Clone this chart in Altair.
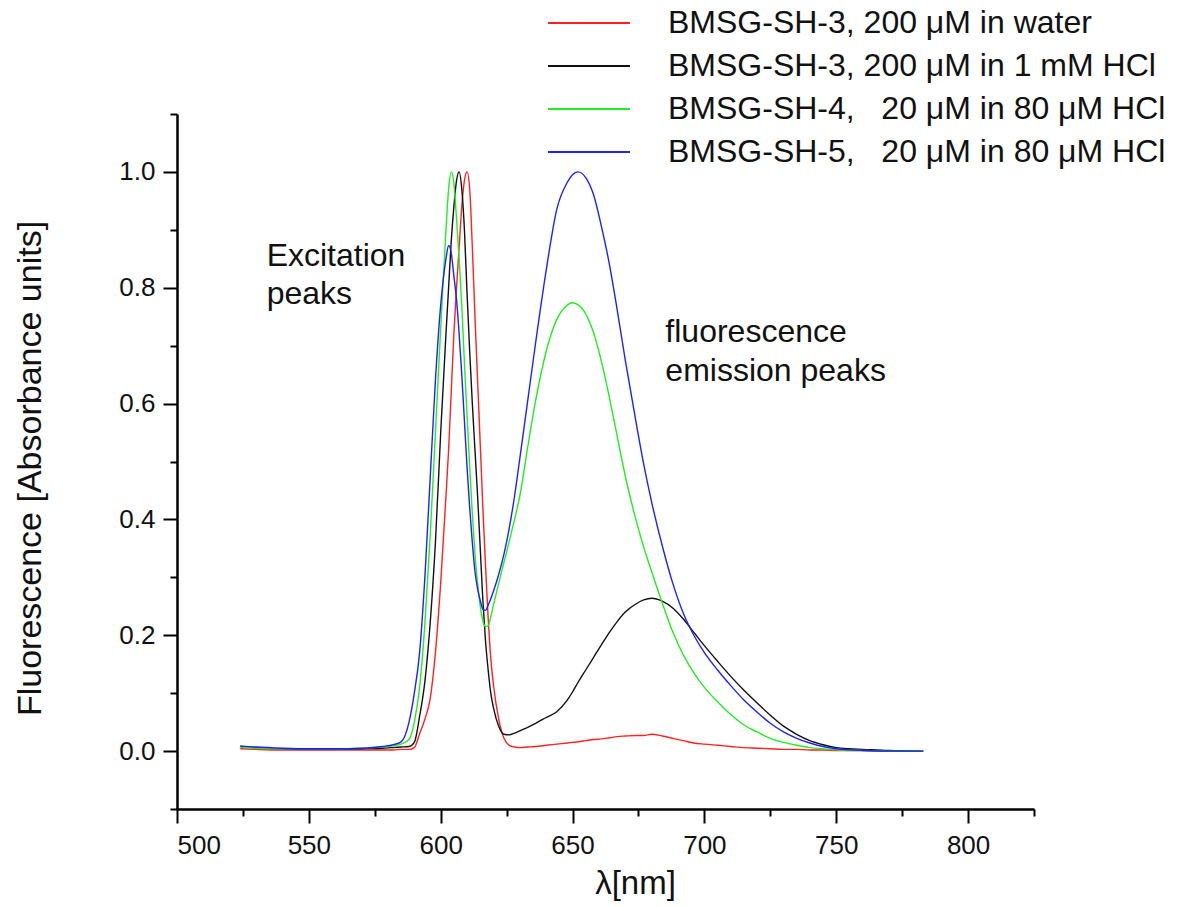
import altair as alt
import pandas as pd

wavelength = [524, 530, 540, 550, 560, 570, 578, 582, 585, 588, 590, 592, 594, 596, 598,
              600, 602, 603, 604, 605, 606, 607, 608, 609, 610, 611, 612, 613, 614, 615,
              616, 617, 618, 619, 620, 622, 624, 626, 628, 630, 633, 636, 640, 644, 648,
              650, 652, 655, 658, 661, 664, 667, 670, 674, 677, 680, 684, 688, 692, 696,
              700, 705, 710, 715, 720, 725, 730, 735, 740, 745, 750, 755, 760, 770, 783]

red = [0.004, 0.003, 0.002, 0.002, 0.002, 0.002, 0.002, 0.002, 0.003, 0.003, 0.006, 0.03, 0.055, 0.09, 0.17,
       0.29, 0.44, 0.52, 0.62, 0.72, 0.80, 0.87, 0.94, 0.985, 1.0, 0.97, 0.87, 0.75, 0.64, 0.53,
       0.42, 0.32, 0.23, 0.16, 0.115, 0.055, 0.022, 0.010, 0.007, 0.006, 0.007, 0.008, 0.010, 0.012, 0.014,
       0.015, 0.016, 0.018, 0.020, 0.021, 0.023, 0.025, 0.026, 0.027, 0.027, 0.029, 0.026, 0.022, 0.018, 0.014,
       0.012, 0.010, 0.008, 0.006, 0.005, 0.004, 0.003, 0.003, 0.002, 0.002, 0.001, 0.001, 0.001, 0.0, 0.0]

black = [0.008, 0.006, 0.004, 0.003, 0.003, 0.004, 0.005, 0.006, 0.007, 0.008, 0.015, 0.06, 0.12, 0.22, 0.36,
         0.55, 0.72, 0.80, 0.88, 0.94, 0.985, 1.0, 0.97, 0.90, 0.79, 0.69, 0.60, 0.52, 0.44, 0.35,
         0.26, 0.19, 0.14, 0.10, 0.075, 0.043, 0.029, 0.028, 0.031, 0.035, 0.041, 0.048, 0.058, 0.068, 0.088,
         0.102, 0.118, 0.14, 0.162, 0.184, 0.205, 0.224, 0.24, 0.254, 0.261, 0.264, 0.259, 0.247, 0.228, 0.205,
         0.182, 0.155, 0.129, 0.105, 0.083, 0.062, 0.043, 0.029, 0.018, 0.011, 0.006, 0.004, 0.003, 0.001, 0.0]

green = [0.007, 0.005, 0.004, 0.004, 0.004, 0.005, 0.007, 0.009, 0.012, 0.02, 0.05, 0.11, 0.22, 0.37, 0.55,
         0.73, 0.90, 0.97, 1.0, 0.98, 0.92, 0.85, 0.77, 0.67, 0.58, 0.49, 0.41, 0.34, 0.29, 0.25,
         0.225, 0.215, 0.216, 0.232, 0.252, 0.29, 0.326, 0.362, 0.40, 0.44, 0.525, 0.605, 0.69, 0.745, 0.77,
         0.774, 0.771, 0.755, 0.722, 0.672, 0.61, 0.542, 0.475, 0.40, 0.352, 0.31, 0.256, 0.206, 0.166, 0.135,
         0.11, 0.085, 0.063, 0.045, 0.033, 0.022, 0.015, 0.010, 0.006, 0.004, 0.002, 0.001, 0.001, 0.0, 0.0]

blue = [0.009, 0.007, 0.005, 0.004, 0.004, 0.005, 0.008, 0.011, 0.016, 0.05, 0.10, 0.17, 0.30, 0.47, 0.64,
        0.77, 0.85, 0.873, 0.86, 0.82, 0.78, 0.72, 0.65, 0.57, 0.49, 0.42, 0.36, 0.31, 0.28, 0.26,
        0.245, 0.243, 0.252, 0.263, 0.276, 0.305, 0.34, 0.385, 0.44, 0.505, 0.605, 0.705, 0.83, 0.935, 0.982,
        0.995, 1.0, 0.99, 0.96, 0.905, 0.84, 0.76, 0.675, 0.57, 0.495, 0.43, 0.355, 0.29, 0.238, 0.20,
        0.17, 0.14, 0.113, 0.088, 0.067, 0.048, 0.033, 0.022, 0.014, 0.008, 0.004, 0.002, 0.001, 0.0, 0.0]

series_names = [
    "BMSG-SH-3, 200 \u03bcM in water",
    "BMSG-SH-3, 200 \u03bcM in 1 mM HCl",
    "BMSG-SH-4,\u00a0\u00a0 20 \u03bcM in 80 \u03bcM HCl",
    "BMSG-SH-5,\u00a0\u00a0 20 \u03bcM in 80 \u03bcM HCl",
]
series_colors = ["#ff2020", "#111111", "#20ee20", "#2020ff"]
series_values = [red, black, green, blue]

x_ticks = [500, 525, 550, 575, 600, 625, 650, 675, 700, 725, 750, 775, 800, 825]
y_ticks = [-0.1, 0.0, 0.1, 0.2, 0.3, 0.4, 0.5, 0.6, 0.7, 0.8, 0.9, 1.0, 1.1]

ann_text = ["Excitation", "peaks", "fluorescence", "emission peaks"]
ann_x = [534.0, 534.0, 685.2, 685.2]
ann_y = [0.837, 0.772, 0.706, 0.639]

rows = []
for name, vals in zip(series_names, series_values):
    for w, v in zip(wavelength, vals):
        rows.append({"wl": w, "val": v, "series": name})
df = pd.DataFrame(rows)
ann = pd.DataFrame({"t": ann_text, "x": ann_x, "y": ann_y})

SANS = "Liberation Sans, Arial, sans-serif"

x_major = "datum.value % 50 === 0 && datum.value <= 800"
y_major = "round(datum.value * 10) % 2 === 0 && datum.value > -0.05 && datum.value < 1.05"

x_scale = alt.Scale(domain=[500, 825], nice=False, zero=False)
y_scale = alt.Scale(domain=[-0.1, 1.1], nice=False, zero=False)

lines = alt.Chart(df).mark_line(strokeWidth=1.4, interpolate="monotone").encode(
    x=alt.X("wl:Q", scale=x_scale, axis=alt.Axis(
        values=x_ticks, format="d",
        labelExpr=f"({x_major}) ? datum.label : ''",
        tickSize={"condition": {"test": x_major, "value": 14}, "value": 7},
        tickWidth=2, tickColor="black", domainColor="black", domainWidth=2.5,
        labelFont=SANS, labelFontSize=26, labelColor="#111111", labelPadding=9,
        grid=False, title="\u03bb[nm]", titleFont=SANS, titleFontSize=33,
        titleFontWeight="normal", titleColor="#111111", titleX=458, titleY=74,
        titleAlign="center", titleBaseline="middle")),
    y=alt.Y("val:Q", scale=y_scale, axis=alt.Axis(
        values=y_ticks,
        labelExpr=f"({y_major}) ? format(datum.value, '.1f') : ''",
        tickSize={"condition": {"test": y_major, "value": 14}, "value": 7},
        tickWidth=2, tickColor="black", domainColor="black", domainWidth=2.5,
        labelFont=SANS, labelFontSize=26, labelColor="#111111", labelPadding=8,
        grid=False, title="Fluorescence [Absorbance units]", titleFont=SANS,
        titleFontSize=34, titleFontWeight="normal", titleColor="#111111",
        titleX=-147, titleY=354, titleAngle=270, titleAlign="center",
        titleBaseline="middle")),
    color=alt.Color("series:N", scale=alt.Scale(domain=series_names, range=series_colors),
                    legend=alt.Legend(orient="none", legendX=396, legendY=-107, title=None,
                                      symbolType="M-4,0H4", symbolSize=420,
                                      symbolStrokeWidth=1.8, labelFont=SANS,
                                      labelFontSize=32, labelColor="#111111",
                                      labelOffset=63, rowPadding=11, labelLimit=700)),
    order=alt.Order("wl:Q"),
)

texts = alt.Chart(ann).mark_text(align="left", baseline="alphabetic", font=SANS,
                                 fontSize=32, color="#111111").encode(
    x=alt.X("x:Q", scale=x_scale), y=alt.Y("y:Q", scale=y_scale), text="t:N")

chart = alt.layer(lines, texts).properties(
    width=857, height=695,
    autosize=alt.AutoSizeParams(type="none"),
    padding={"left": 177, "top": 114, "right": 148, "bottom": 98},
    background="white",
).configure_view(strokeWidth=0)

chart.save("out.html", embed_options={"renderer": "svg", "actions": False})
